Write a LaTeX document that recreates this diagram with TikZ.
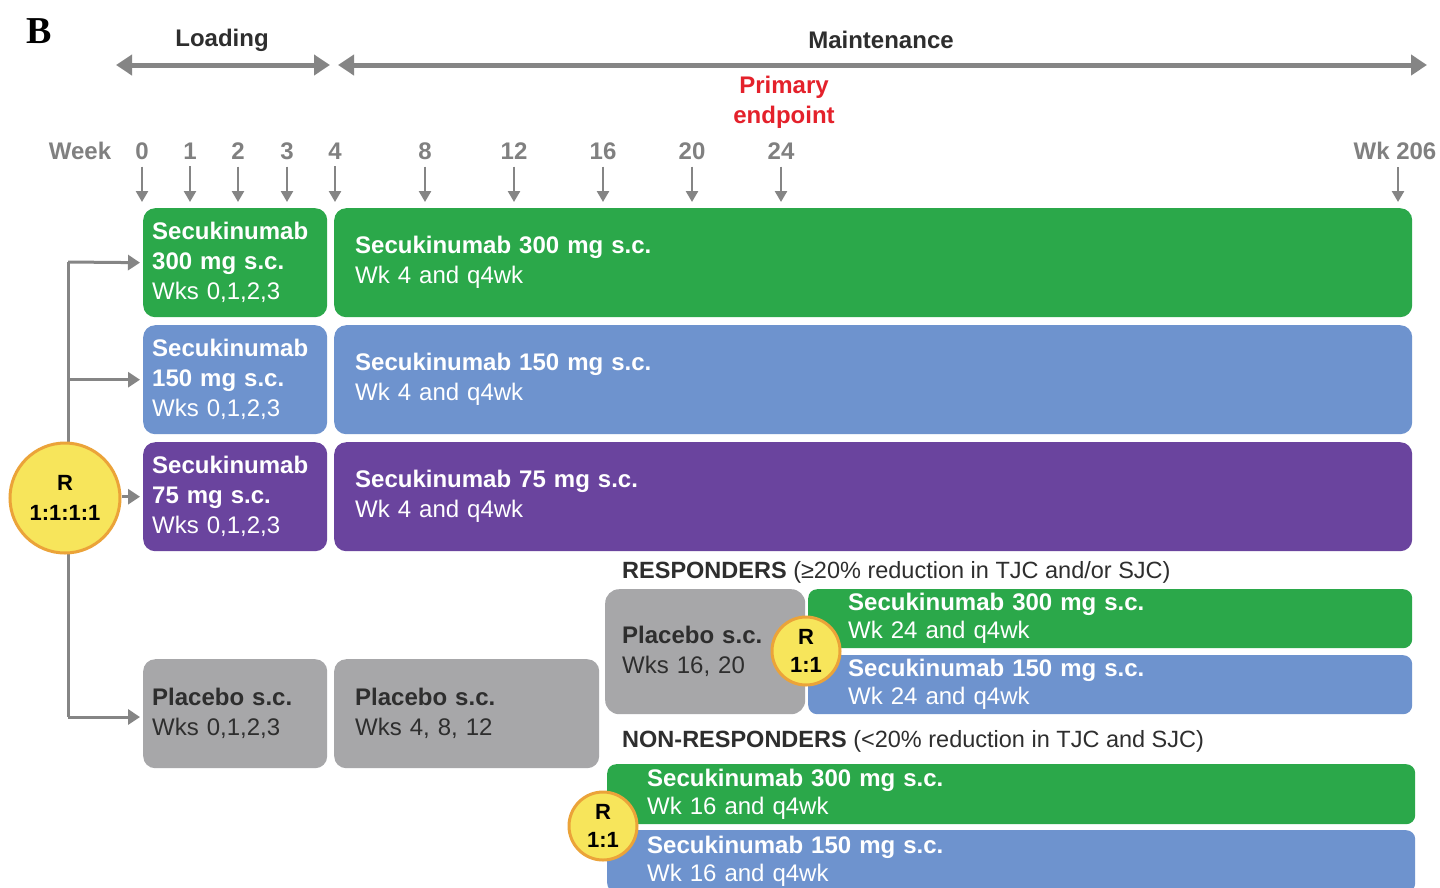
\documentclass[tikz,border=0pt]{standalone}
\usepackage{fontspec}
\setmainfont{Liberation Sans}
\newfontfamily\timesfont{Liberation Serif}
\usetikzlibrary{arrows.meta}
\definecolor{cgreen}{HTML}{2BA84A}
\definecolor{cblue}{HTML}{6E93CE}
\definecolor{cpurple}{HTML}{6A449E}
\definecolor{cgray}{HTML}{A7A7A9}
\definecolor{cyellow}{HTML}{F7E55B}
\definecolor{corange}{HTML}{EBA339}
\definecolor{cred}{HTML}{E4212B}
\definecolor{carrow}{HTML}{858585}
\definecolor{cwk}{HTML}{808080}
\definecolor{ctext}{HTML}{2E2E2E}
\begin{document}
\begin{tikzpicture}[x=1pt,y=-1pt,
  box/.style={rectangle, rounded corners=12pt, anchor=north west, inner ysep=0pt, text=white, align=left, font=\fontsize{24}{30}\selectfont},
  rbox/.style={box, rounded corners=9pt, font=\fontsize{24}{28}\selectfont},
  wk/.style={inner sep=0pt, text=cwk, font=\bfseries\fontsize{24}{28}\selectfont},
  warrow/.style={draw=carrow, line width=2.5pt, -{Triangle[length=11pt,width=12pt]}, shorten <=7pt},
  span/.style={draw=carrow, line width=5pt, {Triangle[length=16pt,width=20pt]}-{Triangle[length=16pt,width=20pt]}},
  conn/.style={draw=carrow, line width=3pt},
  carr/.style={conn, -{Triangle[length=12pt,width=15pt]}, shorten >=3pt},
  rcirc/.style={circle, fill=cyellow, draw=corange, line width=3pt, inner sep=0pt, align=center, text=black, font=\bfseries\fontsize{22}{30}\selectfont},
  lbl/.style={anchor=west, inner sep=0pt, text=ctext, font=\fontsize{23.5}{28}\selectfont}
]
\clip (0,0) rectangle (1440,887);
\fill[white] (0,0) rectangle (1440,887);

% title letter
\node[inner sep=0pt, font=\timesfont\bfseries\fontsize{38}{40}\selectfont] (B) at (39,31) {B};

% phase headers
\node[inner sep=0pt, text=ctext, font=\bfseries\fontsize{24}{28}\selectfont] (load) at (222,40) {Loading};
\node[inner sep=0pt, text=ctext, font=\bfseries\fontsize{24}{28}\selectfont] (maint) at (881,40) {Maintenance};
\coordinate (la) at (116,65); \coordinate (lb) at (330,65);
\coordinate (ma) at (338,65); \coordinate (mb) at (1427,65);
\draw[span] (la) -- (lb);
\draw[span] (ma) -- (mb);
\node[inner sep=0pt, align=center, text=cred, font=\bfseries\fontsize{24}{30}\selectfont] (prim) at (784,102) {Primary\\endpoint};

% week labels and arrows
\node[wk] (week) at (80,151) {Week};
\foreach \n/\x/\t in {0/142/0, 1/190/1, 2/238/2, 3/287/3, 4/335/4, 8/425/8, 12/514/12, 16/603/16, 20/692/20, 24/781/24}{
  \node[wk] (w\n) at (\x,151) {\t};
  \coordinate (a\n) at (\x,202);
  \draw[warrow] (w\n.south) -- (a\n);
}
\node[wk] (w206) at (1395,151) {Wk 206};
\coordinate (a206) at (1398,202);
\draw[warrow] (w206.south -| a206) -- (a206);

% loading boxes
\node[box, fill=cgreen, minimum width=184pt, minimum height=109pt, text width=166pt, inner xsep=9pt] (l1) at (143,208)
  {\textbf{Secukinumab}\\\textbf{300 mg s.c.}\\Wks 0,1,2,3};
\node[box, fill=cblue, minimum width=184pt, minimum height=109pt, text width=166pt, inner xsep=9pt] (l2) at (143,325)
  {\textbf{Secukinumab}\\\textbf{150 mg s.c.}\\Wks 0,1,2,3};
\node[box, fill=cpurple, minimum width=184pt, minimum height=109pt, text width=166pt, inner xsep=9pt] (l3) at (143,442)
  {\textbf{Secukinumab}\\\textbf{75 mg s.c.}\\Wks 0,1,2,3};
\node[box, fill=cgray, text=ctext, minimum width=184pt, minimum height=109pt, text width=166pt, inner xsep=9pt] (l4) at (143,659)
  {\textbf{Placebo s.c.}\\Wks 0,1,2,3};

% maintenance boxes
\node[box, fill=cgreen, minimum width=1078pt, minimum height=109pt, text width=1036pt, inner xsep=21pt] (m1) at (334,208)
  {\textbf{Secukinumab 300 mg s.c.}\\Wk 4 and q4wk};
\node[box, fill=cblue, minimum width=1078pt, minimum height=109pt, text width=1036pt, inner xsep=21pt] (m2) at (334,325)
  {\textbf{Secukinumab 150 mg s.c.}\\Wk 4 and q4wk};
\node[box, fill=cpurple, minimum width=1078pt, minimum height=109pt, text width=1036pt, inner xsep=21pt] (m3) at (334,442)
  {\textbf{Secukinumab 75 mg s.c.}\\Wk 4 and q4wk};
\node[box, fill=cgray, text=ctext, minimum width=265pt, minimum height=109pt, text width=223pt, inner xsep=21pt] (m4) at (334,659)
  {\textbf{Placebo s.c.}\\Wks 4, 8, 12};

% responders
\node[lbl] (resp) at (622,572) {\textbf{RESPONDERS} (≥20\% reduction in TJC and/or SJC)};
\node[box, fill=cgray, text=ctext, minimum width=200pt, minimum height=125pt, text width=166pt, inner xsep=17pt, rounded corners=14pt] (p5) at (605,589)
  {\textbf{Placebo s.c.}\\Wks 16, 20};
\node[rbox, fill=cgreen, minimum width=604pt, minimum height=59pt, text width=524pt, inner xsep=40pt] (r1) at (808,589)
  {\textbf{Secukinumab 300 mg s.c.}\\Wk 24 and q4wk};
\node[rbox, fill=cblue, minimum width=604pt, minimum height=59pt, text width=524pt, inner xsep=40pt] (r2) at (808,655)
  {\textbf{Secukinumab 150 mg s.c.}\\Wk 24 and q4wk};
\node[rcirc, minimum size=68pt, font=\bfseries\fontsize{22}{28}\selectfont] (R2) at (806,651) {R\\1:1};

% non-responders
\node[lbl] (nresp) at (622,741) {\textbf{NON-RESPONDERS} (<20\% reduction in TJC and SJC)};
\node[rbox, fill=cgreen, minimum width=808pt, minimum height=60pt, text width=728pt, inner xsep=40pt] (n1) at (607,764)
  {\textbf{Secukinumab 300 mg s.c.}\\Wk 16 and q4wk};
\node[rbox, fill=cblue, minimum width=808pt, minimum height=62pt, text width=728pt, inner xsep=40pt] (n2) at (607,830)
  {\textbf{Secukinumab 150 mg s.c.}\\Wk 16 and q4wk};
\node[rcirc, minimum size=68pt, font=\bfseries\fontsize{22}{28}\selectfont] (R3) at (603,826) {R\\1:1};

% randomisation connector
\coordinate (v1) at (68,262);
\coordinate (v4) at (68,717);
\draw[conn] (v1) -- (v4);
\draw[carr] (v1) -- (l1.west);
\draw[carr] (v1 |- l2.west) -- (l2.west);
\draw[carr] (v4) -- (l4.west |- v4);
\node[rcirc, minimum size=110pt] (R1) at (65,498) {R\\1:1:1:1};
\draw[carr] (R1.east |- l3.west) -- (l3.west);
\end{tikzpicture}
\end{document}
